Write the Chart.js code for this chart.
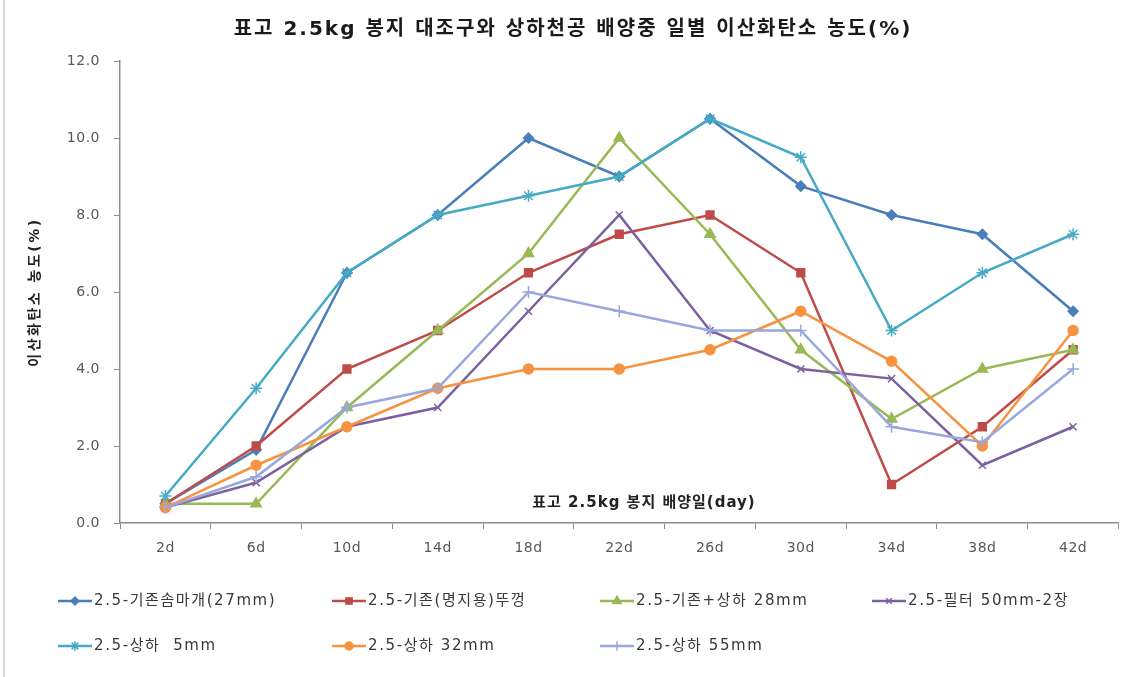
<!DOCTYPE html>
<html lang="ko">
<head>
<meta charset="utf-8">
<title>표고 2.5kg 봉지 CO2 농도</title>
<script src="https://cdn.jsdelivr.net/npm/chart.js@4.4.1/dist/chart.umd.min.js"></script>
<style>
    html, body { margin: 0; padding: 0; background: #fff; }
    #wrap { position: relative; width: 1126px; height: 677px; }
</style>
</head>
<body>
<div id="wrap"><canvas id="co2Chart"></canvas></div>
<script>
const days = ['2d', '6d', '10d', '14d', '18d', '22d', '26d', '30d', '34d', '38d', '42d'];

const cottonCap27 = [0.5, 1.9, 6.5, 8.0, 10.0, 9.0, 10.5, 8.75, 8.0, 7.5, 5.5];
const myungjiLid = [0.5, 2.0, 4.0, 5.0, 6.5, 7.5, 8.0, 6.5, 1.0, 2.5, 4.5];
const capPlusHole28 = [0.5, 0.5, 3.0, 5.0, 7.0, 10.0, 7.5, 4.5, 2.7, 4.0, 4.5];
const filter50x2 = [0.4, 1.05, 2.5, 3.0, 5.5, 8.0, 5.0, 4.0, 3.75, 1.5, 2.5];
const hole5 = [0.7, 3.5, 6.5, 8.0, 8.5, 9.0, 10.5, 9.5, 5.0, 6.5, 7.5];
const hole32 = [0.4, 1.5, 2.5, 3.5, 4.0, 4.0, 4.5, 5.5, 4.2, 2.0, 5.0];
const hole55 = [0.4, 1.2, 3.0, 3.5, 6.0, 5.5, 5.0, 5.0, 2.5, 2.1, 4.0];

const seriesNames = [
    '2.5-기존솜마개(27mm)',
    '2.5-기존(명지용)뚜껑',
    '2.5-기존+상하 28mm',
    '2.5-필터 50mm-2장',
    '2.5-상하  5mm',
    '2.5-상하 32mm',
    '2.5-상하 55mm'
];

const yTicks = [0, 2, 4, 6, 8, 10, 12];

const chartTitle = '표고 2.5kg 봉지 대조구와 상하천공 배양중 일별 이산화탄소 농도(%)';
const xTitle = '표고 2.5kg 봉지 배양일(day)';
const yTitle = '이산화탄소 농도(%)';

// Latin glyphs from DejaVu, Hangul falls through to Noto CJK
const FONT = '"DejaVu Sans", "Noto Sans CJK KR", sans-serif';

const seriesStyle = [
    { color: '#4a7ebb', point: 'rectRot', r: 5 },
    { color: '#be4b48', point: 'rect', r: 5.5 },
    { color: '#98b954', point: 'triangle', r: 6 },
    { color: '#7d60a0', point: 'crossRot', r: 5 },
    { color: '#46aac5', point: 'star', r: 6 },
    { color: '#f69240', point: 'circle', r: 5 },
    { color: '#98a8dc', point: 'cross', r: 6 }
];

const seriesData = [cottonCap27, myungjiLid, capPlusHole28, filter50x2, hole5, hole32, hole55];

const datasets = seriesData.map((values, i) => ({
    label: seriesNames[i],
    data: values,
    borderColor: seriesStyle[i].color,
    backgroundColor: seriesStyle[i].color,
    pointBackgroundColor: seriesStyle[i].color,
    pointBorderColor: seriesStyle[i].color,
    pointStyle: seriesStyle[i].point,
    pointRadius: seriesStyle[i].r,
    pointBorderWidth: 1.5,
    borderWidth: 2.5,
    tension: 0,
    order: seriesData.length - i   // later series on top
}));

// white background, left frame line, slight letter spacing for tick labels
const backdrop = {
    id: 'backdrop',
    beforeDraw(chart) {
        const { ctx, width, height } = chart;
        ctx.fillStyle = '#fff';
        ctx.fillRect(0, 0, width, height);
        ctx.fillStyle = '#d6d6d6';
        ctx.fillRect(3, 0, 2, height);
        ctx.letterSpacing = '0.5px';
    },
    afterDraw(chart) {
        chart.ctx.letterSpacing = '0px';
    }
};

// chart title, y caption and the x caption that sits inside the plot
const captions = {
    id: 'captions',
    afterDatasetsDraw(chart) {
        const { ctx, chartArea, width } = chart;
        ctx.save();
        ctx.textAlign = 'center';
        ctx.textBaseline = 'middle';

        ctx.font = 'bold 20px ' + FONT;
        ctx.letterSpacing = '2px';
        ctx.fillStyle = '#1a1a1a';
        ctx.fillText(chartTitle, width / 2 + 10, 30);

        ctx.font = 'bold 15px ' + FONT;
        ctx.letterSpacing = '1px';
        ctx.fillStyle = '#222';
        ctx.fillText(xTitle, chartArea.left + 524, chartArea.bottom - 20);

        ctx.save();
        ctx.translate(35, (chartArea.top + chartArea.bottom) / 2);
        ctx.rotate(-Math.PI / 2);
        ctx.font = 'bold 14px ' + FONT;
        ctx.letterSpacing = '2.5px';
        ctx.fillText(yTitle, 0, 0);
        ctx.restore();

        ctx.restore();
    }
};

// legend in a fixed 4-column grid under the axis
const gridLegend = {
    id: 'gridLegend',
    afterDraw(chart) {
        const { ctx } = chart;
        const colX = [58, 332, 600, 872];
        const rowY = [601, 646];
        ctx.save();
        chart.data.datasets.forEach((ds, i) => {
            const x = colX[i % 4];
            const y = rowY[Math.floor(i / 4)];
            ctx.strokeStyle = ds.borderColor;
            ctx.lineWidth = 2.5;
            ctx.beginPath();
            ctx.moveTo(x, y);
            ctx.lineTo(x + 34, y);
            ctx.stroke();
            ctx.fillStyle = ds.borderColor;
            ctx.lineWidth = 1.5;
            Chart.helpers.drawPoint(ctx, {
                pointStyle: ds.pointStyle,
                radius: ds.pointRadius * 0.8,
                rotation: 0,
                borderWidth: 1.5
            }, x + 17, y);
            ctx.font = '15px ' + FONT;
            ctx.letterSpacing = '1.6px';
            ctx.fillStyle = '#383838';
            ctx.textAlign = 'left';
            ctx.textBaseline = 'middle';
            ctx.fillText(ds.label, x + 36, y);
        });
        ctx.restore();
    }
};

new Chart(document.getElementById('co2Chart'), {
    type: 'line',
    data: { labels: days, datasets },
    plugins: [backdrop, captions, gridLegend],
    options: {
        responsive: true,
        maintainAspectRatio: false,
        animation: false,
        layout: { padding: { left: 0, right: 4, top: 61, bottom: 104 } },
        plugins: {
            legend: { display: false },
            tooltip: { enabled: false },
            title: { display: false }
        },
        scales: {
            x: {
                offset: true,
                grid: {
                    offset: true,
                    drawOnChartArea: false,
                    drawTicks: true,
                    tickLength: 6,
                    color: '#8c8c8c'
                },
                border: { display: true, color: '#8c8c8c', width: 1.5 },
                ticks: {
                    font: { family: FONT, size: 14 },
                    color: '#595959',
                    padding: 11,
                    maxRotation: 0
                },
                afterFit(scale) { scale.height = 50; }
            },
            y: {
                min: 0,
                max: 12,
                afterBuildTicks(scale) { scale.ticks = yTicks.map(v => ({ value: v })); },
                grid: {
                    drawOnChartArea: false,
                    drawTicks: true,
                    tickLength: 6,
                    color: '#8c8c8c'
                },
                border: { display: true, color: '#8c8c8c', width: 1.5 },
                ticks: {
                    font: { family: FONT, size: 14 },
                    color: '#595959',
                    padding: 14,
                    callback: v => Number(v).toFixed(1)
                },
                title: { display: false },
                afterFit(scale) { scale.width = 120; }
            }
        }
    }
});
</script>
</body>
</html>
